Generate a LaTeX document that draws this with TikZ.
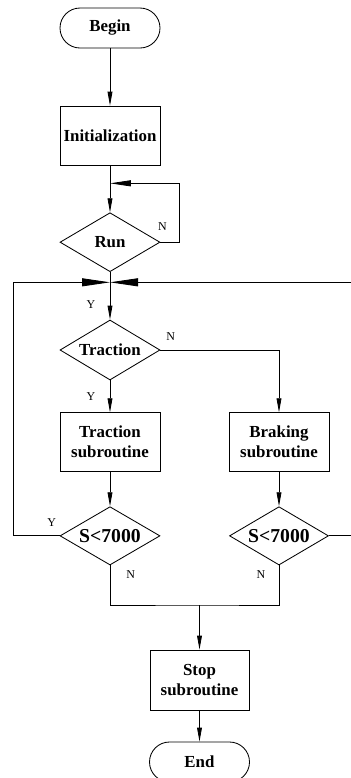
\documentclass[tikz,border=0pt]{standalone}
\usepackage{fontspec}
\setmainfont{Liberation Serif}
\usetikzlibrary{arrows.meta, shapes.geometric}

\begin{document}
\begin{tikzpicture}[
  line width=0.6pt,
  font=\fontsize{12}{14.2}\selectfont\bfseries,
  term/.style={draw, rounded corners=0.5cm, minimum width=2.5cm, minimum height=1cm},
  proc/.style={draw, align=center, minimum width=2.5cm, minimum height=1.475cm, inner sep=1pt},
  decide/.style={draw, diamond, aspect=1.7, inner sep=0pt, minimum width=2.5cm, minimum height=1.475cm},
  yn/.style={font=\fontsize{8.5}{10}\selectfont},
  arr/.style={-{Triangle[length=3.5mm, width=1.2mm]}},
  bigarr/.style={-{Triangle[length=7mm, width=2mm]}},
]

\useasboundingbox (0,0) rectangle (8.775,-19.45);

% start and initialization
\node[term] (begin) at (2.75,-0.7) {Begin};
\node[proc] (init) at (2.75,-3.39) {Initialization};
\node[decide] (run) at (2.75,-6.055) {Run};

% traction / braking branch
\node[decide, minimum height=1.5cm] (trac) at (2.75,-8.75) {Traction};
\node[proc] (tsub) at (2.75,-11.055) {Traction\\subroutine};
\node[proc] (bsub) at (6.975,-11.055) {Braking\\subroutine};

% speed checks
\begin{scope}[every node/.append style={font=\fontsize{14}{16}\selectfont\bfseries}]
\node[decide, minimum height=1.458cm] (s1) at (2.75,-13.396) {S<7000};
\node[decide, minimum height=1.458cm, minimum width=2.475cm] (s2) at (6.975,-13.396) {S<7000};
\end{scope}

% stop
\node[proc, minimum width=2.475cm, minimum height=1.52cm] (stopsub) at (4.9875,-17.01) {Stop\\subroutine};
\node[term] (finish) at (4.9875,-19.05) {End};

% helper points
\coordinate (loopR) at (4.483,-4.583);
\coordinate (junc) at (2.75,-7.058);
\coordinate (lft) at (0.325,-7.058);
\coordinate (rgt) at (8.9,-7.058);
\coordinate (mrg) at (4.9875,-15.125);

% connectors
\draw[arr] (begin) -- (init);
\draw[arr] (init) -- (run);
\draw[-{Triangle[length=5.2mm, width=1.5mm]}] (run.east) -| (loopR) -- (loopR -| init.south);
\draw[arr] (run) -- (trac);
\draw[bigarr] (s1.west) -| (lft) -- (junc);
\draw[bigarr] (s2.east) -| (rgt) -- (junc);
\draw[arr] (trac.east) -| (bsub.north);
\draw[arr] (trac) -- (tsub);
\draw[arr] (tsub) -- (s1);
\draw[arr] (bsub) -- (s2);
\draw (s1.south) |- (mrg) -| (s2.south);
\draw[arr] (mrg) -- (stopsub);
\draw[arr] (stopsub) -- (finish);

% Y / N labels
\path[yn]
(4.06,-5.667) node (nrun) {N}
(2.275,-7.625) node (yrun) {Y}
(4.267,-8.417) node (ntrac) {N}
(2.275,-9.917) node (ytrac) {Y}
(1.29,-13.075) node (ys1) {Y}
(3.267,-14.375) node (ns1) {N}
(6.525,-14.375) node (ns2) {N}
;

\end{tikzpicture}
\end{document}
